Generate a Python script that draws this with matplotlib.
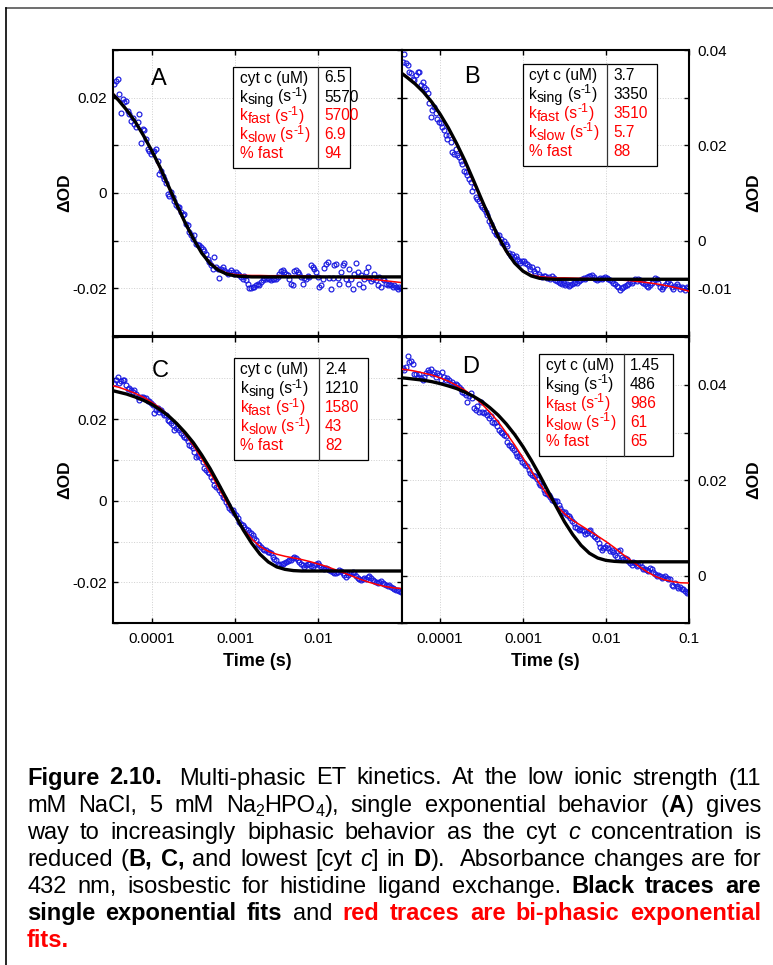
import matplotlib
matplotlib.use('Agg')
import matplotlib.pyplot as plt
from matplotlib.lines import Line2D
from matplotlib.patches import Rectangle
from matplotlib.ticker import FixedLocator, NullLocator
import numpy as np

plt.rcParams['font.family'] = ['Liberation Sans', 'DejaVu Sans']

W, H = 773, 965

# log10 of time (s) for the measured points
T_LOG = [-4.45, -4.43, -4.41, -4.39, -4.37, -4.35, -4.33, -4.31, -4.29, -4.27,
         -4.25, -4.23, -4.21, -4.19, -4.17, -4.15, -4.13, -4.11, -4.09, -4.07,
         -4.05, -4.03, -4.01, -3.99, -3.97, -3.95, -3.93, -3.91, -3.89, -3.87,
         -3.85, -3.83, -3.81, -3.79, -3.77, -3.75, -3.73, -3.71, -3.69, -3.67,
         -3.65, -3.63, -3.61, -3.59, -3.57, -3.55, -3.53, -3.51, -3.49, -3.47,
         -3.45, -3.43, -3.41, -3.39, -3.37, -3.35, -3.33, -3.31, -3.29, -3.27,
         -3.25, -3.23, -3.21, -3.19, -3.17, -3.15, -3.13, -3.11, -3.09, -3.07,
         -3.05, -3.03, -3.01, -2.99, -2.97, -2.95, -2.93, -2.91, -2.89, -2.87,
         -2.85, -2.83, -2.81, -2.79, -2.77, -2.75, -2.73, -2.71, -2.69, -2.67,
         -2.65, -2.63, -2.61, -2.59, -2.57, -2.55, -2.53, -2.51, -2.49, -2.47,
         -2.45, -2.43, -2.41, -2.39, -2.37, -2.35, -2.33, -2.31, -2.29, -2.27,
         -2.25, -2.23, -2.21, -2.19, -2.17, -2.15, -2.13, -2.11, -2.09, -2.07,
         -2.05, -2.03, -2.01, -1.99, -1.97, -1.95, -1.93, -1.91, -1.89, -1.87,
         -1.85, -1.83, -1.81, -1.79, -1.77, -1.75, -1.73, -1.71, -1.69, -1.67,
         -1.65, -1.63, -1.61, -1.59, -1.57, -1.55, -1.53, -1.51, -1.49, -1.47,
         -1.45, -1.43, -1.41, -1.39, -1.37, -1.35, -1.33, -1.31, -1.29, -1.27,
         -1.25, -1.23, -1.21, -1.19, -1.17, -1.15, -1.13, -1.11, -1.09, -1.07,
         -1.05, -1.03, -1.01]

# measured dOD, in units of 0.001
OD_A = [22.8, 23.5, 24.0, 20.7, 16.7, 19.7, 19.1, 19.3, 17.2, 16.5,
        15.1, 15.8, 14.4, 13.9, 14.8, 16.5, 10.5, 13.4, 13.2, 11.3,
        9.3, 8.9, 8.2, 8.6, 8.9, 9.2, 6.8, 4.0, 4.7, 3.6,
        2.9, 2.2, -0.2, -0.6, 0.3, -0.9, -1.6, -2.6, -3.0, -3.0,
        -4.0, -4.7, -4.4, -6.5, -6.8, -8.2, -8.9, -9.6, -8.9, -10.7,
        -11.0, -11.0, -11.4, -11.7, -12.1, -12.8, -13.8, -14.5, -15.2, -15.9,
        -13.5, -15.5, -15.9, -17.8, -15.9, -15.5, -16.2, -16.6, -16.9, -16.6,
        -16.2, -16.6, -16.9, -16.6, -16.9, -17.3, -17.6, -18.0, -17.4, -18.3,
        -19.0, -19.9, -19.9, -19.7, -19.7, -19.4, -19.0, -19.2, -18.7, -18.3,
        -17.8, -18.1, -17.8, -18.1, -18.3, -18.0, -18.1, -18.1, -17.6, -16.9,
        -16.4, -16.2, -16.6, -16.9, -17.3, -18.0, -19.0, -19.2, -16.4, -16.2,
        -16.6, -16.9, -17.6, -19.0, -17.8, -18.0, -17.4, -17.6, -15.2, -15.5,
        -15.9, -16.6, -17.6, -19.7, -19.4, -18.0, -15.8, -14.8, -14.5, -17.8,
        -20.1, -17.8, -15.2, -14.8, -17.8, -19.0, -16.6, -15.1, -14.6, -18.0,
        -19.0, -15.9, -18.0, -20.1, -16.9, -14.6, -16.6, -19.0, -17.1, -19.7,
        -18.0, -16.6, -15.5, -17.8, -18.5, -18.0, -16.9, -18.3, -19.2, -17.6,
        -19.7, -18.0, -18.3, -19.0, -19.4, -19.0, -19.4, -19.7, -19.2, -19.7,
        -20.1, -19.7, -19.9]

OD_B = [37.5, 39.1, 37.2, 36.8, 35.4, 35.1, 34.0, 33.7, 34.7, 35.4,
        35.4, 32.6, 33.3, 32.3, 31.9, 30.9, 28.8, 26.0, 27.4, 28.1,
        26.7, 25.6, 24.9, 24.6, 23.9, 23.2, 22.1, 21.4, 22.1, 20.7,
        18.6, 18.2, 19.3, 17.9, 17.5, 16.8, 16.1, 14.7, 14.4, 13.7,
        13.0, 12.3, 10.5, 11.2, 9.1, 8.8, 8.4, 7.4, 7.0, 6.7,
        6.0, 5.3, 4.2, 3.5, 2.8, 2.1, 1.4, 1.1, 1.1, 0.4,
        -0.4, 0.0, -0.7, -1.1, -2.5, -3.2, -2.8, -3.5, -3.2, -3.9,
        -4.2, -4.6, -4.2, -4.2, -4.6, -4.9, -5.3, -6.0, -5.6, -6.3,
        -6.7, -6.0, -7.0, -7.4, -7.7, -7.4, -7.5, -7.9, -7.7, -8.1,
        -7.5, -7.9, -8.2, -8.4, -8.6, -8.8, -9.1, -8.9, -9.3, -9.1,
        -9.5, -9.3, -9.1, -8.9, -8.6, -8.8, -8.4, -8.2, -8.1, -7.9,
        -8.1, -7.7, -7.5, -7.4, -7.2, -7.7, -8.1, -8.2, -8.1, -7.9,
        -8.1, -7.9, -7.7, -7.9, -8.1, -8.2, -8.4, -8.8, -9.1, -9.5,
        -9.8, -10.3, -10.0, -9.8, -9.5, -9.3, -9.1, -8.6, -8.8, -8.4,
        -8.1, -8.4, -8.1, -8.2, -8.6, -8.8, -9.1, -9.5, -9.8, -9.3,
        -8.9, -8.4, -7.9, -8.1, -8.8, -9.8, -10.2, -9.8, -9.3, -8.8,
        -8.4, -9.1, -9.8, -10.2, -9.6, -9.1, -9.5, -10.2, -9.8, -10.0,
        -10.3, -9.8, -10.0]

OD_C = [28.8, 29.6, 30.4, 28.8, 29.2, 29.6, 29.6, 28.4, 27.3, 27.6,
        27.2, 26.7, 27.2, 26.2, 25.5, 24.7, 25.5, 25.5, 25.1, 25.1,
        24.3, 24.3, 23.9, 23.5, 21.4, 22.2, 22.7, 21.8, 22.2, 21.4,
        21.0, 21.0, 19.8, 19.4, 19.0, 18.6, 17.3, 17.8, 17.8, 17.3,
        16.5, 16.1, 15.7, 15.3, 14.5, 13.7, 13.3, 12.8, 12.0, 10.8,
        11.0, 11.2, 10.4, 9.6, 7.9, 7.5, 7.1, 6.7, 5.9, 5.1,
        3.8, 3.4, 3.4, 2.6, 1.8, 1.0, 0.6, -0.2, -1.1, -1.9,
        -2.3, -2.3, -3.1, -3.5, -4.3, -5.2, -5.6, -6.0, -6.4, -6.8,
        -7.2, -7.6, -8.0, -8.4, -9.2, -9.7, -10.5, -10.9, -11.3, -11.7,
        -12.1, -12.1, -12.5, -12.5, -12.9, -13.7, -14.2, -14.6, -15.4, -15.8,
        -15.6, -15.4, -15.2, -15.0, -14.8, -14.6, -14.4, -14.0, -13.8, -14.0,
        -14.4, -14.9, -15.4, -15.8, -16.2, -15.8, -15.6, -15.4, -16.0, -16.2,
        -15.8, -15.4, -15.2, -15.8, -16.2, -16.4, -16.6, -16.4, -16.6, -17.0,
        -17.2, -17.4, -17.8, -17.7, -17.4, -17.0, -17.2, -17.8, -18.2, -18.7,
        -18.2, -17.8, -17.7, -17.4, -17.8, -18.5, -18.8, -19.1, -19.3, -19.1,
        -18.8, -19.1, -18.7, -18.5, -18.8, -19.3, -19.6, -19.9, -20.1, -19.9,
        -19.6, -20.1, -20.5, -20.7, -20.9, -20.7, -21.1, -21.3, -21.5, -21.8,
        -21.9, -22.1, -22.3]

OD_D = [43.5, 43.1, 43.7, 46.1, 44.9, 45.1, 44.5, 42.4, 42.4, 41.7,
        42.4, 41.4, 41.0, 41.7, 42.6, 43.1, 42.8, 43.3, 42.4, 42.8,
        41.7, 42.6, 42.1, 41.0, 42.8, 41.7, 41.0, 41.4, 41.0, 40.3,
        40.7, 40.0, 40.3, 40.0, 39.6, 39.1, 38.6, 38.3, 37.9, 36.5,
        37.6, 38.3, 37.2, 35.1, 34.8, 35.5, 34.4, 36.5, 34.4, 34.1,
        34.4, 33.7, 33.0, 33.4, 32.3, 32.0, 32.3, 31.3, 30.6, 30.2,
        29.9, 29.5, 29.2, 28.1, 27.4, 27.1, 26.7, 26.4, 25.7, 25.1,
        25.0, 24.6, 23.9, 23.6, 23.2, 22.9, 22.2, 21.5, 21.1, 20.8,
        20.9, 20.2, 19.4, 19.1, 18.7, 18.0, 17.3, 17.2, 17.0, 16.6,
        15.9, 15.6, 15.6, 15.6, 14.9, 14.2, 13.5, 13.1, 13.3, 12.8,
        12.6, 12.1, 11.4, 11.0, 10.3, 10.0, 9.6, 9.8, 9.6, 9.3,
        8.8, 8.9, 9.3, 9.6, 8.8, 8.4, 8.1, 7.7, 6.8, 6.1,
        5.4, 5.8, 6.1, 6.5, 5.8, 5.1, 5.3, 4.9, 4.4, 3.9,
        5.1, 5.4, 4.0, 3.4, 3.7, 3.5, 3.0, 2.7, 2.3, 2.8,
        2.7, 2.0, 2.3, 2.7, 1.8, 1.4, 1.3, 1.1, 0.9, 1.6,
        1.3, 0.7, 0.4, 0.0, 0.2, -0.1, -0.5, -0.3, 0.0, -0.5,
        -0.7, -0.8, -1.9, -2.1, -1.5, -2.2, -2.6, -2.4, -2.8, -2.9,
        -3.3, -3.6, -3.5]

# log10 time for the fitted curves
FIT_LOG = [-4.46, -4.4, -4.3, -4.2, -4.1, -4.0, -3.9, -3.8, -3.7, -3.6,
           -3.5, -3.4, -3.3, -3.2, -3.1, -3.0, -2.9, -2.8, -2.7, -2.6,
           -2.5, -2.4, -2.3, -2.2, -2.1, -2.0, -1.9, -1.8, -1.7, -1.6,
           -1.5, -1.4, -1.3, -1.2, -1.1, -1.0]

SING_A = [20.6, 19.5, 17.4, 15.0, 12.1, 8.9, 5.4, 1.5, -2.4, -6.2,
          -9.6, -12.6, -14.8, -16.2, -17.0, -17.4, -17.5, -17.6, -17.6, -17.6,
          -17.6, -17.6, -17.6, -17.6, -17.6, -17.6, -17.6, -17.6, -17.6, -17.6,
          -17.6, -17.6, -17.6, -17.6, -17.6, -17.6]
BI_A = [20.8, 19.7, 17.5, 15.0, 12.0, 8.7, 5.1, 1.2, -2.7, -6.4,
        -9.7, -12.5, -14.6, -16.0, -16.8, -17.1, -17.25, -17.3, -17.3, -17.35,
        -17.35, -17.4, -17.4, -17.4, -17.45, -17.5, -17.55, -17.6, -17.7, -17.8,
        -17.9, -18.05, -18.2, -18.4, -18.6, -18.8]

SING_B = [35.1, 34.3, 32.9, 31.2, 29.1, 26.6, 23.7, 20.4, 16.8, 12.8,
          8.7, 4.7, 0.9, -2.2, -4.7, -6.4, -7.4, -7.9, -8.05, -8.1,
          -8.1, -8.1, -8.1, -8.1, -8.1, -8.1, -8.1, -8.1, -8.1, -8.1,
          -8.1, -8.1, -8.1, -8.1, -8.1, -8.1]
BI_B = [35.2, 34.5, 33.0, 31.2, 29.0, 26.4, 23.5, 20.1, 16.4, 12.4,
        8.3, 4.3, 0.6, -2.4, -4.7, -6.3, -7.2, -7.55, -7.7, -7.8,
        -7.8, -7.85, -7.9, -7.95, -8.0, -8.1, -8.15, -8.3, -8.4, -8.6,
        -8.8, -9.05, -9.35, -9.7, -10.1, -10.6]

SING_C = [26.9, 26.6, 26.1, 25.4, 24.6, 23.6, 22.3, 20.8, 18.9, 16.7,
          14.2, 11.2, 7.9, 4.2, 0.4, -3.5, -7.2, -10.4, -13.1, -15.0,
          -16.2, -16.8, -17.1, -17.2, -17.2, -17.2, -17.2, -17.2, -17.2, -17.2,
          -17.2, -17.2, -17.2, -17.2, -17.2, -17.2]
BI_C = [28.1, 27.8, 27.1, 26.3, 25.35, 24.1, 22.7, 20.9, 18.8, 16.3,
        13.5, 10.35, 6.9, 3.3, -0.4, -3.8, -6.9, -9.35, -11.2, -12.4,
        -13.1, -13.6, -14.0, -14.4, -14.9, -15.5, -16.1, -16.85, -17.6, -18.4,
        -19.2, -19.9, -20.5, -21.0, -21.3, -21.5]

SING_D = [41.5, 41.4, 41.2, 41.0, 40.7, 40.3, 39.8, 39.25, 38.5, 37.65,
          36.6, 35.25, 33.7, 31.8, 29.6, 27.05, 24.2, 21.1, 17.8, 14.5,
          11.3, 8.6, 6.35, 4.7, 3.7, 3.2, 3.0, 2.9, 2.9, 2.9,
          2.9, 2.9, 2.9, 2.9, 2.9, 2.9]
BI_D = [43.3, 43.2, 42.9, 42.5, 42.1, 41.5, 40.8, 39.9, 38.9, 37.6,
        36.1, 34.3, 32.3, 29.9, 27.4, 24.7, 21.95, 19.3, 16.8, 14.7,
        13.0, 11.6, 10.5, 9.4, 8.3, 7.15, 5.9, 4.5, 3.2, 1.9,
        0.74, -0.2, -0.85, -1.25, -1.5, -1.55]

XTICKS = [1e-4, 1e-3, 1e-2, 1e-1]
# table row labels: pieces of (text, kind); kind: n normal, sub, sup, sp (space)
TABLE_LABELS = [
    [('cyt c (uM)', 'n')],
    [('k', 'n'), ('sing', 'sub'), ('', 'sp'), ('(s', 'n'), ('-1', 'sup'), (')', 'n')],
    [('k', 'n'), ('fast', 'sub'), ('', 'sp'), ('(s', 'n'), ('-1', 'sup'), (')', 'n')],
    [('k', 'n'), ('slow', 'sub'), ('', 'sp'), ('(s', 'n'), ('-1', 'sup'), (')', 'n')],
    [('% fast', 'n')],
]
ROW_COLORS = ['black', 'black', 'red', 'red', 'red']
VALS_A = ['6.5', '5570', '5700', '6.9', '94']
VALS_B = ['3.7', '3350', '3510', '5.7', '88']
VALS_C = ['2.4', '1210', '1580', '43', '82']
VALS_D = ['1.45', '486', '986', '61', '65']

CAPTION = [
    [("Figure 2.10.", 'b'), ("  Multi-phasic ET kinetics. At the low ionic strength (11", 'n')],
    [("mM NaCl, 5 mM Na", 'n'), ("2", 's'), ("HPO", 'n'), ("4", 's'),
     ("), single exponential behavior (", 'n'), ("A", 'b'), (") gives", 'n')],
    [("way to increasingly biphasic behavior as the cyt ", 'n'), ("c", 'i'),
     (" concentration is", 'n')],
    [("reduced (", 'n'), ("B, C,", 'b'), (" and lowest [cyt ", 'n'), ("c", 'i'),
     ("] in ", 'n'), ("D", 'b'), (").  Absorbance changes are for", 'n')],
    [("432 nm, isosbestic for histidine ligand exchange. ", 'n'), ("Black traces are", 'b')],
    [("single exponential fits", 'b'), (" and ", 'n'), ("red traces are bi-phasic exponential", 'r')],
    [("fits.", 'r')],
]


def fx(x):
    return x / W


def fy(y):
    return 1 - y / H


def drawPanel(fig, rect, od, bi, sing, ylim, yticks, ylabels, side, xlabels):
    x0, y0, x1, y1 = rect
    ax = fig.add_axes([fx(x0), fy(y1), (x1 - x0) / W, (y1 - y0) / H])
    ax.set_xscale('log')
    t = 10 ** np.array(T_LOG[:len(od)])
    ax.plot(t, np.array(od) / 1000, 'o', ms=3.5, mfc='none', mec='#1a1ae0', mew=0.85, zorder=2)
    tf = 10 ** np.array(FIT_LOG)
    ax.plot(tf, np.array(bi) / 1000, color='red', lw=1.1, zorder=3)
    ax.plot(tf, np.array(sing) / 1000, color='black', lw=2.4, zorder=4)
    ax.set_xlim(10 ** -4.461, 0.1)
    ax.set_ylim(*ylim)
    ax.xaxis.set_major_locator(FixedLocator(XTICKS))
    ax.xaxis.set_minor_locator(NullLocator())
    ax.set_xticklabels(xlabels)
    ax.set_yticks(yticks)
    ax.set_yticklabels(ylabels)
    ax.yaxis.set_minor_locator(NullLocator())
    ax.grid(True, color='#cfcfcf', ls=':', lw=0.7)
    ax.set_axisbelow(True)
    ax.tick_params(which='both', direction='in', top=True, bottom=True, left=True, right=True,
                   length=3.6, width=1.0, labelsize=11)
    ax.tick_params(axis='x', pad=6, labelbottom=any(xlabels))
    left = side == 'left'
    ax.tick_params(axis='y', labelleft=left, labelright=not left, pad=4.7 if left else 6.3)
    for s in ax.spines.values():
        s.set_linewidth(1.5)
    return ax


def placeRun(fig, rend, x, y, pieces, size, color):
    size_px = size * 100 / 72
    for txt, kind in pieces:
        if kind == 'sp':
            x += 0.278 * size_px
            continue
        fs, dy = size, 0
        if kind == 'sub':
            fs, dy = size * 0.92, 2.8
        elif kind == 'sup':
            fs, dy = size * 0.8, -5.5
        t = fig.text(fx(x), fy(y + dy), txt, fontsize=fs, color=color, va='baseline', zorder=7)
        x += t.get_window_extent(rend).width


def drawTable(fig, rend, box, vals):
    bx0, by0, bx1, by1, bdiv = box
    fig.add_artist(Rectangle((fx(bx0), fy(by1)), (bx1 - bx0) / W, (by1 - by0) / H,
                             transform=fig.transFigure, fc='white', ec='black', lw=0.9, zorder=5))
    fig.add_artist(Line2D([fx(bdiv), fx(bdiv)], [fy(by0), fy(by1)], transform=fig.transFigure,
                          color='#333333', lw=0.9, zorder=6))
    for i in range(5):
        yb = by0 + 15.8 + 19 * i
        placeRun(fig, rend, bx0 + 6.5, yb, TABLE_LABELS[i], 11.2, ROW_COLORS[i])
        fig.text(fx(bdiv + 5.7), fy(yb), vals[i], fontsize=11.2, color=ROW_COLORS[i],
                 va='baseline', zorder=7)


def makeText(fig, piece, st, size):
    kw = dict(fontsize=size, va='baseline', ha='left', color='black')
    if st == 'b':
        kw['weight'] = 'bold'
    elif st == 'i':
        kw['style'] = 'italic'
    elif st == 'r':
        kw['weight'] = 'bold'
        kw['color'] = 'red'
    elif st == 's':
        kw['fontsize'] = size * 0.68
    return fig.text(0, 0, piece, **kw)


def drawCaption(fig, rend):
    size = 17
    size_px = size * 100 / 72
    space = 0.278 * size_px
    left, right = 27, 761
    for n, runs in enumerate(CAPTION):
        base = 784.5 + 27.03 * n
        words, gaps = [[]], []
        for txt, st in runs:
            for j, piece in enumerate(txt.split(' ')):
                if j > 0:
                    if words[-1]:
                        words.append([])
                        gaps.append(1)
                    elif gaps:
                        gaps[-1] += 1
                if piece:
                    words[-1].append((piece, st))
        if not words[-1]:
            words.pop()
            gaps.pop()
        arts = [[(makeText(fig, p, st, size), st) for p, st in w] for w in words]
        widths = [[a.get_window_extent(rend).width for a, st in w] for w in arts]
        total = sum(sum(w) for w in widths)
        extra = 0
        if n < len(CAPTION) - 1 and gaps:
            extra = (right - left - total - space * sum(gaps)) / len(gaps)
        x = left
        for k, w in enumerate(arts):
            for (a, st), wd in zip(w, widths[k]):
                yb = base + 0.2 * size_px if st == 's' else base
                a.set_position((fx(x), fy(yb)))
                x += wd
            if k < len(gaps):
                x += space * gaps[k] + extra


fig = plt.figure(figsize=(W / 100, H / 100), dpi=100, facecolor='white')
rend = fig.canvas.get_renderer()

no_x = ['', '', '', '']
drawPanel(fig, (113.3, 50, 401.7, 336), OD_A, BI_A, SING_A, (-0.03, 0.03),
          [-0.03, -0.02, -0.01, 0, 0.01, 0.02, 0.03], ['', '-0.02', '', '0', '', '0.02', ''],
          'left', no_x)
drawPanel(fig, (401.7, 50, 689, 336), OD_B, BI_B, SING_B, (-0.02, 0.04),
          [-0.02, -0.01, 0, 0.01, 0.02, 0.03, 0.04], ['', '-0.01', '0', '', '0.02', '', '0.04'],
          'right', no_x)
drawPanel(fig, (113.3, 337.3, 401.7, 623.3), OD_C, BI_C, SING_C, (-0.03, 0.04),
          [-0.03, -0.02, -0.01, 0, 0.01, 0.02, 0.03, 0.04], ['', '-0.02', '', '0', '', '0.02', '', ''],
          'left', ['0.0001', '0.001', '0.01', ''])
drawPanel(fig, (401.7, 337.3, 689, 623.3), OD_D, BI_D, SING_D, (-0.01, 0.05),
          [-0.01, 0, 0.01, 0.02, 0.03, 0.04, 0.05], ['', '0', '', '0.02', '', '0.04', ''],
          'right', ['0.0001', '0.001', '0.01', '0.1'])

drawTable(fig, rend, (233.3, 66.7, 350, 168.3, 318.3), VALS_A)
drawTable(fig, rend, (522.7, 64, 656.7, 166, 607.3), VALS_B)
drawTable(fig, rend, (234, 358.3, 368.3, 460, 319.3), VALS_C)
drawTable(fig, rend, (539.3, 354, 673.3, 456, 624.3), VALS_D)

for letter, x, y in [('A', 159.3, 85), ('B', 472.3, 82.7), ('C', 160.3, 376.7), ('D', 470.8, 373.3)]:
    fig.text(fx(x), fy(y), letter, fontsize=17, ha='center', va='baseline', zorder=7)

for x, y in [(65, 193), (754, 193), (65, 480), (754, 480)]:
    fig.text(fx(x), fy(y), '\u0394OD', fontsize=12.5, weight='bold', rotation=90,
             ha='center', va='center')
for x in [257.5, 545.3]:
    fig.text(fx(x), fy(662), 'Time (s)', fontsize=13, weight='bold', ha='center', va='center')

# page frame
fig.add_artist(Line2D([fx(6), fx(773)], [fy(7.5), fy(7.5)], transform=fig.transFigure,
                      color='#555555', lw=1.2))
fig.add_artist(Line2D([fx(6.3), fx(6.3)], [fy(7.5), fy(965)], transform=fig.transFigure,
                      color='black', lw=1.2))

drawCaption(fig, rend)

fig.savefig('out.png', dpi=100, facecolor='white')
